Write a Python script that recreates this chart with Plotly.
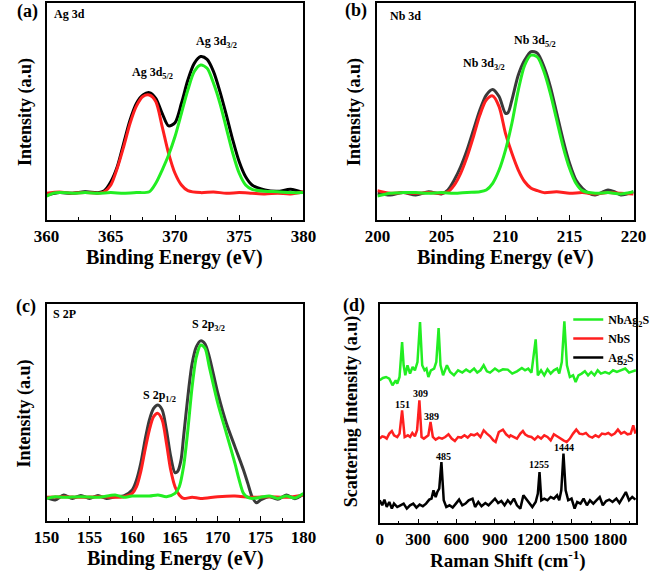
import plotly.graph_objects as go
from plotly.subplots import make_subplots

# ---------------- Panel (a) Ag 3d ----------------
a_black_x = [360, 361, 362, 363, 364, 364.5, 365, 365.5, 366, 366.5, 367, 367.5, 368, 368.5, 369, 369.5,
             370, 370.5, 371, 371.5, 372, 372.5, 373, 373.5, 374, 374.5, 375, 375.5, 376, 377, 378, 379, 380]
a_black_y = [11.5, 12.6, 12.3, 13.0, 12.6, 13.5, 17.6, 24.5, 35.3, 46.0, 53.7, 57.5, 58.6, 56.0, 49.1, 43.3,
             44.8, 53.7, 64.4, 72.1, 75.2, 73.9, 68.3, 59.1, 48.3, 36.8, 26.8, 19.9, 16.1, 13.8, 13.2, 14.1, 12.6]
a_red_x = [360, 361, 362, 363, 364, 364.5, 365, 365.5, 366, 366.5, 367, 367.5, 368, 368.5, 369, 369.5, 370,
           370.5, 371, 372, 373, 374, 375, 376, 377, 378, 379, 380]
a_red_y = [12.3, 12.9, 12.3, 12.7, 12.3, 13.0, 16.1, 23.8, 33.7, 44.5, 52.5, 56.8, 57.5, 54.5, 43.0, 30.7, 21.5,
           16.1, 13.5, 12.6, 12.9, 12.3, 12.6, 12.3, 12.0, 12.3, 12.0, 13.0]
a_green_x = [360, 360.5, 361, 362, 363, 364, 365, 366, 367, 368, 368.5, 369, 369.5, 370, 370.5, 371, 371.5,
             372, 372.5, 373, 373.5, 374, 374.5, 375, 375.5, 376, 377, 378, 379, 380]
a_green_y = [11.0, 12.3, 12.7, 12.3, 12.6, 12.3, 12.6, 12.3, 12.6, 13.0, 16.9, 23.0, 29.9, 38.4, 49.1, 59.8, 68.3,
             71.3, 69.8, 62.9, 53.7, 42.2, 30.7, 21.5, 16.1, 14.1, 13.2, 13.0, 12.6, 12.6]

# ---------------- Panel (b) Nb 3d ----------------
b_black_x = [200, 201, 202, 203, 204, 205, 205.5, 206, 206.5, 207, 207.5, 208, 208.5, 209, 209.5, 210, 210.2,
             210.5, 211, 211.5, 212, 212.5, 213, 213.5, 214, 214.5, 215, 215.5, 216, 216.5, 217, 217.5, 218,
             218.5, 219, 220]
b_black_y = [12.3, 11.5, 12.6, 11.5, 13.0, 12.0, 13.8, 18.4, 24.5, 32.2, 41.4, 50.6, 57.5, 60.1, 56.8, 49.1, 49.4,
             55.2, 66.7, 73.6, 77.5, 76.7, 70.6, 61.4, 49.1, 36.8, 26.1, 18.4, 14.6, 12.3, 11.5, 12.6, 13.8,
             13.0, 11.5, 13.0]
b_red_x = [200, 201, 202, 203, 204, 205, 205.5, 206, 206.5, 207, 207.5, 208, 208.5, 209, 209.5, 210, 210.5,
           211, 211.5, 212, 212.5, 213, 214, 215, 216, 217, 218, 219, 220]
b_red_y = [13.5, 12.3, 12.6, 12.3, 12.6, 12.3, 13.0, 16.1, 21.5, 29.1, 38.4, 48.3, 55.2, 57.1, 52.2, 39.9, 30.7,
           23.0, 17.6, 14.6, 13.5, 12.6, 13.0, 12.3, 12.6, 12.0, 12.6, 12.3, 12.0]
b_green_x = [200, 201, 202, 203, 204, 205, 206, 207, 208, 208.5, 209, 209.5, 210, 210.5, 211, 211.5, 212,
             212.5, 213, 213.5, 214, 214.5, 215, 215.5, 216, 217, 218, 219, 220]
b_green_y = [11.0, 12.3, 12.6, 12.6, 12.3, 12.6, 12.3, 12.7, 13.0, 13.8, 16.9, 23.0, 32.2, 44.5, 59.8, 71.3, 75.9,
             74.9, 68.3, 58.3, 46.0, 33.7, 23.8, 16.9, 13.5, 12.3, 12.6, 12.0, 13.0]

# ---------------- Panel (c) S 2p ----------------
c_black_x = [150, 151, 152, 153, 154, 155, 156, 157, 158, 159, 160, 160.5, 161, 161.5, 162, 162.5, 163, 163.5,
             164, 164.5, 165, 165.3, 165.7, 166, 166.5, 167, 167.5, 168, 168.5, 169, 170, 171, 172, 173, 173.5,
             174, 174.5, 175, 176, 177, 178, 179, 180]
c_black_y = [10.8, 9.6, 11.9, 10.3, 11.7, 10.3, 11.6, 10.3, 11.1, 11.4, 14.2, 18.8, 26.5, 37.3, 46.5, 51.9, 53.5,
             51.2, 41.9, 29.6, 22.2, 22.7, 28.0, 38.8, 57.3, 72.7, 80.4, 83.1, 81.7, 75.8, 58.9, 45.0, 34.2,
             23.4, 17.3, 11.1, 8.3, 9.6, 11.1, 9.9, 11.9, 10.2, 12.3]
c_red_x = [150, 152, 154, 156, 158, 159, 160, 160.5, 161, 161.5, 162, 162.5, 163, 163.5, 164, 164.5, 165, 165.5,
           166, 167, 168, 170, 172, 174, 176, 178, 180]
c_red_y = [10.8, 11.1, 10.8, 11.1, 10.8, 11.1, 12.6, 15.7, 22.7, 32.7, 41.9, 48.1, 49.6, 46.5, 35.8, 23.4, 15.7,
           11.9, 10.3, 10.8, 10.3, 11.1, 11.4, 10.8, 11.1, 10.8, 11.9]
c_green_x = [150, 151, 152, 154, 156, 158, 159, 160, 162, 163, 164, 165, 165.5, 166, 166.5, 167, 167.5, 168,
             168.5, 169, 170, 171, 172, 172.5, 173, 173.5, 174, 175, 176, 177, 178, 179, 180]
c_green_y = [10.3, 11.1, 10.8, 11.1, 10.8, 11.9, 10.8, 11.4, 11.4, 11.9, 11.1, 12.6, 15.7, 25.0, 41.9, 61.9, 75.8,
             81.2, 79.7, 71.2, 54.2, 40.4, 26.5, 18.8, 12.6, 10.8, 10.3, 10.8, 11.4, 10.3, 11.4, 10.5, 12.6]

# ---------------- Panel (d) Raman ----------------
nbag2s_x = [0, 25, 50, 75, 100, 125, 137, 155, 175, 187, 200, 217, 237, 257, 275, 295, 315, 332, 350, 365, 380,
            400, 425, 442, 460, 475, 495, 525, 550, 580, 612, 645, 675, 705, 737, 762, 787, 812, 837, 862, 900,
            930, 962, 1000, 1035, 1072, 1110, 1135, 1160, 1185, 1218, 1235, 1260, 1285, 1310, 1335, 1360, 1385,
            1402, 1422, 1442, 1462, 1485, 1510, 1530, 1552, 1577, 1602, 1627, 1652, 1677, 1702, 1727, 1760,
            1792, 1822, 1852, 1885, 1917, 1947, 1977, 2000]
nbag2s_y = [143, 145.3, 146.3, 144.7, 138, 143, 139.7, 146.3, 181.3, 158, 148, 158, 149.7, 156.3, 153, 161.3,
            201.3, 158, 153, 154.7, 146.3, 153, 154.7, 161.3, 195.3, 158, 148, 158, 151.3, 148, 153, 150.7,
            153.7, 151.3, 154.7, 150.7, 153, 158, 152, 150.7, 154.7, 152, 154, 153.7, 149.7, 152, 155.3, 153,
            154.7, 150.7, 184, 148, 153, 148, 154, 149.7, 153, 154.7, 149.7, 161.3, 202, 158, 146.3, 148, 141.3,
            148, 149.7, 152, 148, 151.3, 148, 153, 149.7, 151.3, 149.7, 153, 151.3, 153, 154.7, 150.7, 152, 153]

nbs_x = [0, 20, 37, 55, 75, 95, 112, 137, 155, 175, 195, 220, 237, 255, 275, 292, 310, 327, 345, 365, 380, 397,
         415, 437, 462, 487, 512, 537, 562, 587, 612, 637, 662, 687, 712, 737, 762, 787, 812, 837, 862, 887,
         905, 930, 962, 987, 1012, 1022, 1048, 1072, 1098, 1118, 1135, 1160, 1185, 1210, 1235, 1260, 1285,
         1310, 1335, 1360, 1385, 1410, 1435, 1460, 1485, 1510, 1535, 1560, 1585, 1610, 1635, 1660, 1685, 1710,
         1735, 1760, 1785, 1810, 1835, 1860, 1885, 1910, 1935, 1960, 1980, 1997]
nbs_y = [84.7, 87, 86.3, 84.7, 89.7, 92.3, 88, 86.3, 89.7, 113, 86.3, 88, 86.3, 90.3, 87, 93, 123, 86.3, 84.7,
         87, 88, 101.3, 86.3, 83.7, 85.7, 84.7, 86.3, 89, 84.7, 82.3, 86.3, 85.7, 88, 85.7, 89, 88, 89.7, 86.3,
         93, 89.7, 87, 83, 81.3, 91.3, 93.7, 89, 86.3, 88, 86.3, 84.7, 89.7, 92.3, 89, 87, 86.3, 83.7, 87, 84.7,
         88, 86.3, 83, 89, 87, 84.7, 83, 81.3, 84.7, 89.7, 93.7, 89.7, 89, 90.3, 87, 85.7, 88, 86.3, 89.7, 89,
         90.3, 88, 89.7, 93.7, 89.7, 91.3, 89, 89.7, 98, 89.7]

ag2s_x = [0, 20, 37, 55, 75, 95, 112, 137, 162, 187, 212, 237, 262, 287, 312, 337, 362, 387, 405, 420, 437, 450,
          465, 482, 500, 520, 545, 570, 595, 620, 645, 670, 695, 725, 745, 770, 795, 825, 850, 875, 900, 925,
          950, 975, 1000, 1022, 1048, 1072, 1098, 1122, 1142, 1168, 1192, 1218, 1235, 1248, 1262, 1285, 1310,
          1335, 1360, 1385, 1402, 1418, 1435, 1452, 1472, 1498, 1522, 1542, 1568, 1592, 1618, 1642, 1668,
          1692, 1718, 1742, 1768, 1792, 1818, 1848, 1872, 1897, 1922, 1947, 1972, 1997]
ag2s_y = [23, 18, 23.7, 16.3, 21.3, 14.7, 19.7, 16.3, 18, 19.7, 14.7, 18, 19.7, 15.7, 18.7, 17, 19.7, 23.7,
          24.7, 33, 26.3, 31.3, 34.7, 61.3, 23, 16.3, 18, 15.7, 19.7, 23.7, 18, 19.7, 23, 24.7, 16.3, 21.3, 17,
          20.3, 18, 21.3, 24.7, 20.3, 22.3, 18, 23, 19.7, 24.7, 18, 14.7, 28, 24.7, 21.3, 16.3, 21.3, 29.7,
          51.3, 23, 24.7, 23, 26.3, 24.7, 28, 23, 33, 69.7, 33, 23, 24.7, 14.7, 21.3, 19.7, 24.7, 18, 23, 19.7,
          23, 26.3, 18, 22.3, 23.7, 21.3, 24.7, 20.3, 25.7, 31.3, 23, 26.3, 23.7]

raman_peaks_x = [180, 322, 405, 495, 1245, 1440]
raman_peaks_y = [119, 130, 107, 67, 59, 76]
raman_peaks_text = ["151", "309", "389", "485", "1255", "1444"]

GREEN = "#22ee22"
RED = "#ff1f1f"
BLACK = "#000000"
DARK = "#3a3a3a"
FONT = "'Liberation Serif', 'Times New Roman', 'DejaVu Serif', serif"

fig = make_subplots(rows=2, cols=2)


def add(x, y, color, row, col, width=3, shape="spline", name=None, show=False):
    line = dict(color=color, width=width, shape=shape)
    if shape == "spline":
        line["smoothing"] = 0.8
    fig.add_trace(go.Scatter(x=x, y=y, mode="lines", line=line, name=name, showlegend=show,
                             hoverinfo="skip"), row=row, col=col)


add(a_black_x, a_black_y, BLACK, 1, 1)
add(a_red_x, a_red_y, RED, 1, 1)
add(a_green_x, a_green_y, GREEN, 1, 1)
add(b_black_x, b_black_y, DARK, 1, 2)
add(b_red_x, b_red_y, RED, 1, 2)
add(b_green_x, b_green_y, GREEN, 1, 2)
add(c_black_x, c_black_y, DARK, 2, 1)
add(c_red_x, c_red_y, RED, 2, 1)
add(c_green_x, c_green_y, GREEN, 2, 1)
add(nbag2s_x, nbag2s_y, GREEN, 2, 2, width=2.5, shape="linear", name="NbAg<sub>2</sub>S", show=True)
add(nbs_x, nbs_y, RED, 2, 2, width=2.5, shape="linear", name="NbS", show=True)
add(ag2s_x, ag2s_y, BLACK, 2, 2, width=2.5, shape="linear", name="Ag<sub>2</sub>S", show=True)

W, H = 661, 571


def px(x):
    return x / W


def py(y):
    return 1 - y / H


xcommon = dict(showline=True, linecolor="black", linewidth=1.5, mirror=True, ticks="inside", ticklen=5,
               tickwidth=1.2, tickcolor="black", showgrid=False, zeroline=False,
               tickfont=dict(family=FONT, size=17, color="black", weight="bold"),
               minor=dict(ticks="inside", ticklen=3, tickwidth=1, tickcolor="black", showgrid=False))
ycommon = dict(showline=True, linecolor="black", linewidth=1.5, mirror=True, ticks="", showticklabels=False,
               showgrid=False, zeroline=False)

fig.update_xaxes(**xcommon)
fig.update_yaxes(**ycommon)

fig.update_layout(
    xaxis=dict(domain=[px(35), px(302.3)], range=[360, 380], tick0=360, dtick=5, minor=dict(dtick=2.5)),
    yaxis=dict(domain=[py(220), py(2.7)], range=[0, 100]),
    xaxis2=dict(domain=[px(379.3), px(646)], range=[200, 220], tick0=200, dtick=5, minor=dict(dtick=2.5)),
    yaxis2=dict(domain=[py(220), py(2.7)], range=[0, 100]),
    xaxis3=dict(domain=[px(35), px(302.3)], range=[150, 180], tick0=150, dtick=5, minor=dict(dtick=2.5)),
    yaxis3=dict(domain=[py(520.7), py(304.3)], range=[0, 100]),
    xaxis4=dict(domain=[px(381.7), px(649)], range=[0, 2005], tick0=0, dtick=300, minor=dict(dtick=150)),
    yaxis4=dict(domain=[py(523.3), py(304)], range=[0, 219.3]),
)

ann = []


def t(text, x, y, size, xanchor="center", angle=0):
    ann.append(dict(text=text, x=px(x), y=py(y), xref="paper", yref="paper", showarrow=False,
                    xanchor=xanchor, yanchor="middle", textangle=angle,
                    font=dict(family=FONT, size=size, color="black", weight="bold")))


# panel labels
t("(a)", 15, 12, 18)
t("(b)", 357, 11, 18)
t("(c)", 14, 306, 18)
t("(d)", 355, 305, 18)
# inner labels
t("Ag 3d", 41, 14, 12, "left")
t("Ag 3d<sub>5/2</sub>", 145, 73, 12)
t("Ag 3d<sub>3/2</sub>", 212, 42, 12)
t("Nb 3d", 390, 16, 12, "left")
t("Nb 3d<sub>3/2</sub>", 490, 64, 12)
t("Nb 3d<sub>5/2</sub>", 543, 41, 12)
t("S 2P", 40, 314, 12, "left")
t("S 2p<sub>1/2</sub>", 153, 396, 12)
t("S 2p<sub>3/2</sub>", 203, 325, 12)
# axis titles
t("Intensity (a.u)", 12.5, 112, 18, angle=-90)
t("Intensity (a.u)", 355, 112, 18, angle=-90)
t("Intensity (a.u)", 11, 414, 18, angle=-90)
t("Scattering Intensity (a.u)", 352, 411, 18, angle=-90)
t("Binding Energy (eV)", 168.5, 257, 20)
t("Binding Energy (eV)", 512.5, 257, 20)
t("Binding Energy (eV)", 169, 558, 20)
t("Raman Shift (cm<sup>-1</sup>)", 515, 559, 19)

for xv, yv, tx in zip(raman_peaks_x, raman_peaks_y, raman_peaks_text):
    ann.append(dict(text=tx, x=xv, y=yv, xref="x4", yref="y4", showarrow=False, xanchor="center",
                    yanchor="middle", font=dict(family=FONT, size=10, color="black", weight="bold")))

fig.update_layout(
    width=W, height=H, margin=dict(l=0, r=0, t=0, b=0), paper_bgcolor="white", plot_bgcolor="white",
    annotations=ann,
    legend=dict(x=px(578), y=py(305), xanchor="left", yanchor="top", bgcolor="rgba(0,0,0,0)",
                font=dict(family=FONT, size=12, color="black", weight="bold"), itemwidth=30,
                tracegroupgap=0, borderwidth=0),
)

fig.write_html("out.html", config={"displayModeBar": False},
               post_script="document.body.style.margin='0';document.body.style.padding='0';")
